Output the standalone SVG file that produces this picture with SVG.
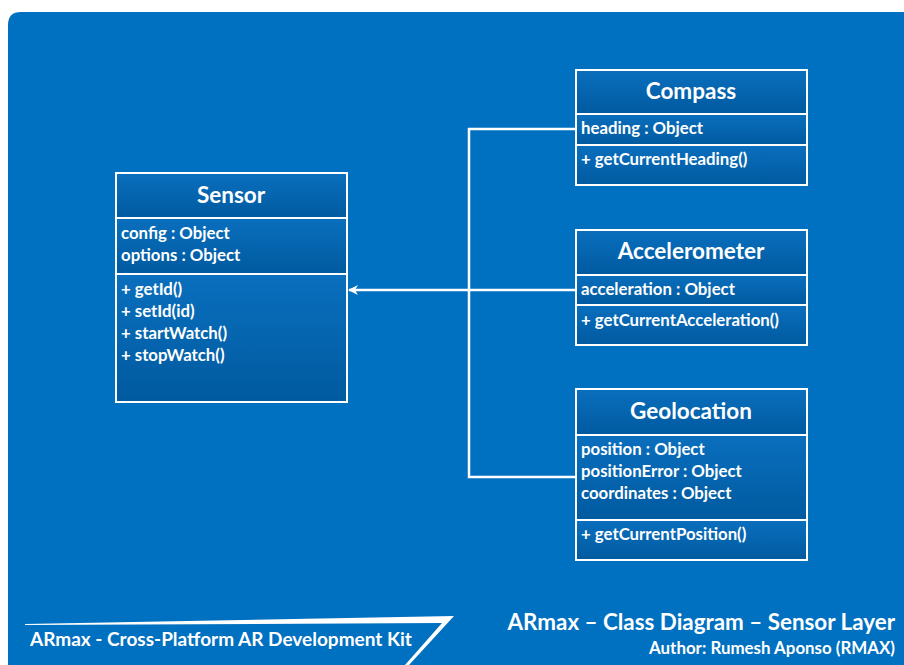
<svg xmlns="http://www.w3.org/2000/svg" width="904" height="665" viewBox="0 0 904 665">
<defs>
<linearGradient id="cg" x1="0" y1="0" x2="0" y2="1">
<stop offset="0" stop-color="#0A6FBE"/>
<stop offset="1" stop-color="#005A9F"/>
</linearGradient>
<marker id="arr" viewBox="0 0 10 10" refX="9" refY="5" markerWidth="10" markerHeight="10" markerUnits="userSpaceOnUse" orient="auto">
<path d="M0,0 L10,5 L0,10 L3,5 Z" fill="#FFFFFF"/>
</marker>
</defs>
<style>
.comp{fill:url(#cg);stroke:#FFFFFF;stroke-width:2}
.t{font-family:Lato,"Liberation Sans",sans-serif;font-weight:bold;fill:#FFFFFF}
.title{font-size:22.5px;text-anchor:middle}
.m{font-size:16.8px}
.conn{stroke:#FFFFFF;stroke-width:2.5;fill:none}
</style>
<rect x="0" y="0" width="904" height="665" fill="#FFFFFF"/>
<path d="M8,665 L8,25 Q8,12 21,12 L904,12 L904,665 Z" fill="#0070C0"/>

<g id="connectors">
<path class="conn" d="M576,129 L469,129 L469,477 L576,477"/>
<path class="conn" d="M576,290 L349,290" marker-end="url(#arr)"/>
</g>

<g id="sensor">
<rect class="comp" x="116" y="173" width="231" height="45"/>
<rect class="comp" x="116" y="218" width="231" height="56"/>
<rect class="comp" x="116" y="274" width="231" height="128"/>
<text class="t title" x="231" y="203">Sensor</text>
<text class="t m" x="121" y="239">config : Object</text>
<text class="t m" x="121" y="261">options : Object</text>
<text class="t m" x="121" y="295">+ getId()</text>
<text class="t m" x="121" y="317">+ setId(id)</text>
<text class="t m" x="121" y="339">+ startWatch()</text>
<text class="t m" x="121" y="361">+ stopWatch()</text>
</g>

<g id="compass">
<rect class="comp" x="576" y="70" width="231" height="44"/>
<rect class="comp" x="576" y="114" width="231" height="31"/>
<rect class="comp" x="576" y="145" width="231" height="40"/>
<text class="t title" x="691" y="99">Compass</text>
<text class="t m" x="581" y="134">heading : Object</text>
<text class="t m" x="581" y="165">+ getCurrentHeading()</text>
</g>

<g id="accelerometer">
<rect class="comp" x="576" y="230" width="231" height="45"/>
<rect class="comp" x="576" y="275" width="231" height="30"/>
<rect class="comp" x="576" y="305" width="231" height="40"/>
<text class="t title" x="691" y="259">Accelerometer</text>
<text class="t m" x="581" y="295">acceleration : Object</text>
<text class="t m" x="581" y="326">+ getCurrentAcceleration()</text>
</g>

<g id="geolocation">
<rect class="comp" x="576" y="389" width="231" height="46"/>
<rect class="comp" x="576" y="435" width="231" height="85"/>
<rect class="comp" x="576" y="520" width="231" height="40"/>
<text class="t title" x="691" y="419">Geolocation</text>
<text class="t m" x="581" y="455">position : Object</text>
<text class="t m" x="581" y="477">positionError : Object</text>
<text class="t m" x="581" y="499">coordinates : Object</text>
<text class="t m" x="581" y="540">+ getCurrentPosition()</text>
</g>

<g id="footer">
<path d="M25,624 L454,616 L409,665 L405,665 L442,623 L25,625 Z" fill="#FFFFFF"/>
<text class="t" x="30" y="646" font-size="19px">ARmax - Cross-Platform AR Development Kit</text>
<text class="t" x="895" y="630" font-size="22.4px" text-anchor="end">ARmax – Class Diagram – Sensor Layer</text>
<text class="t" x="895" y="654" font-size="16.9px" text-anchor="end">Author: Rumesh Aponso (RMAX)</text>
</g>
</svg>
